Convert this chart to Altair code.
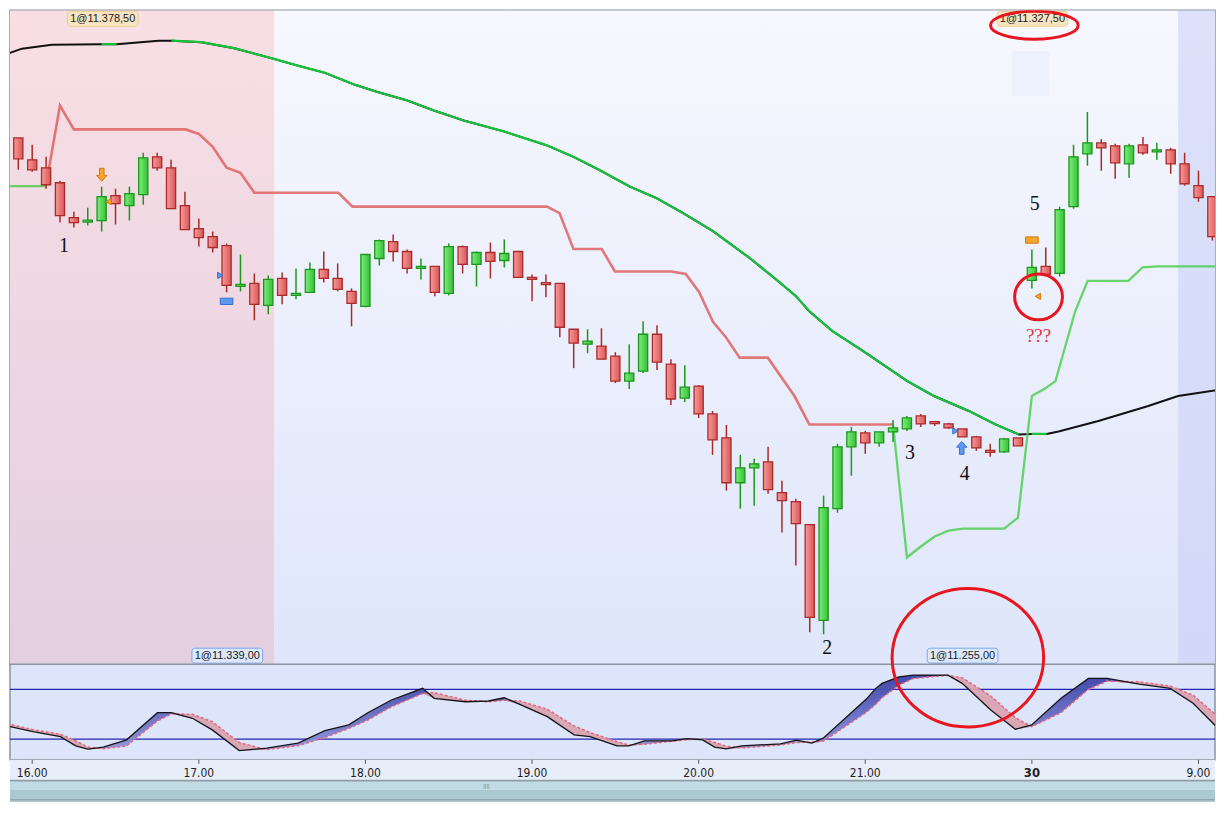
import altair as alt
import pandas as pd

# ---------------- data ----------------
# 5-minute candles; bar index k (0 = 16:00, 12 bars per hour, 72 = 08:00 on the 30th)
bar_k = list(range(-2, 87))
open_ = [11357.4, 11362.8, 11358.4, 11356.8, 11353.8, 11346.8, 11346.1, 11346.2, 11351.2, 11349.2,
         11351.4, 11359.0, 11356.8, 11349.2, 11344.6, 11343.0, 11341.2, 11333.2, 11333.6, 11329.2,
         11334.6, 11331.4, 11331.8, 11336.4, 11334.6, 11332.0, 11329.0, 11338.6, 11342.0, 11340.0,
         11336.8, 11337.0, 11331.6, 11341.0, 11337.4, 11339.8, 11338.2, 11340.0, 11334.8, 11333.6,
         11333.6, 11324.4, 11321.4, 11321.0, 11319.0, 11314.0, 11316.0, 11323.4, 11317.4, 11310.6,
         11313.0, 11307.4, 11302.6, 11293.6, 11296.6, 11297.8, 11291.6, 11289.8, 11285.2, 11266.0,
         11288.4, 11300.8, 11303.6, 11301.6, 11303.8, 11304.4, 11307.0, 11305.7, 11305.4, 11304.4,
         11302.8, 11300.0, 11299.8, 11302.6, 11334.2, 11337.0, 11335.6, 11349.0, 11359.6, 11361.8,
         11361.2, 11357.6, 11361.4, 11360.0, 11360.4, 11357.6, 11353.2, 11351.0, 11342.8]
high = [11365.8, 11362.8, 11361.4, 11359.0, 11354.2, 11348.0, 11348.8, 11353.0, 11352.6, 11353.0,
        11359.8, 11359.8, 11358.4, 11352.0, 11346.6, 11344.0, 11341.6, 11339.4, 11335.6, 11335.2,
        11335.8, 11336.6, 11337.8, 11340.0, 11337.6, 11332.6, 11339.4, 11342.4, 11343.4, 11340.4,
        11338.6, 11337.0, 11341.6, 11341.2, 11340.0, 11341.8, 11342.4, 11340.0, 11335.4, 11335.4,
        11333.6, 11324.4, 11324.4, 11324.6, 11319.8, 11321.4, 11326.0, 11325.2, 11318.4, 11317.2,
        11313.2, 11308.0, 11305.2, 11299.2, 11298.4, 11300.8, 11294.0, 11290.4, 11285.2, 11291.0,
        11301.4, 11304.8, 11304.0, 11303.8, 11306.2, 11307.0, 11307.4, 11305.7, 11305.6, 11304.4,
        11303.0, 11301.4, 11302.6, 11302.6, 11340.4, 11340.8, 11349.0, 11361.4, 11368.0, 11362.6,
        11361.6, 11361.6, 11363.0, 11361.8, 11360.8, 11359.8, 11356.2, 11351.0, 11342.8]
low = [11356.4, 11356.4, 11356.0, 11352.6, 11345.8, 11344.8, 11345.2, 11344.0, 11345.4, 11346.2,
       11349.4, 11356.2, 11348.6, 11344.4, 11341.0, 11339.8, 11331.8, 11332.0, 11326.2, 11327.4,
       11329.4, 11330.4, 11331.8, 11333.8, 11332.0, 11325.0, 11328.8, 11337.2, 11338.0, 11335.6,
       11334.4, 11331.0, 11331.2, 11335.6, 11333.0, 11334.6, 11336.8, 11334.8, 11330.0, 11330.8,
       11322.8, 11316.6, 11319.6, 11318.4, 11313.6, 11312.4, 11315.6, 11316.2, 11309.2, 11309.8,
       11306.6, 11299.2, 11292.0, 11288.4, 11289.0, 11291.4, 11283.6, 11277.0, 11263.6, 11263.2,
       11287.6, 11295.0, 11299.4, 11300.8, 11301.8, 11304.0, 11304.8, 11305.0, 11304.4, 11302.8,
       11300.0, 11298.8, 11299.6, 11301.0, 11332.6, 11335.4, 11335.0, 11348.6, 11357.2, 11356.2,
       11354.6, 11354.8, 11359.4, 11358.4, 11355.6, 11353.2, 11350.0, 11342.2, 11337.4]
close = [11363.0, 11358.6, 11356.4, 11353.4, 11347.2, 11345.8, 11346.1, 11351.0, 11349.6, 11351.6,
         11358.8, 11356.8, 11348.6, 11344.4, 11342.8, 11340.8, 11333.2, 11333.2, 11329.4, 11334.4,
         11331.2, 11331.4, 11336.4, 11334.6, 11332.4, 11329.6, 11339.4, 11342.2, 11340.0, 11336.6,
         11336.8, 11331.8, 11341.0, 11337.4, 11339.8, 11338.0, 11339.6, 11334.8, 11334.4, 11333.5,
         11324.8, 11321.6, 11322.0, 11318.4, 11314.0, 11315.6, 11323.4, 11317.8, 11310.4, 11312.8,
         11307.4, 11302.2, 11293.6, 11296.6, 11297.4, 11292.2, 11290.0, 11285.4, 11266.6, 11288.6,
         11300.8, 11303.8, 11301.6, 11303.8, 11304.6, 11306.6, 11305.4, 11305.6, 11304.6, 11302.8,
         11300.6, 11299.8, 11302.4, 11301.0, 11336.8, 11335.4, 11348.4, 11359.0, 11361.8, 11360.8,
         11357.8, 11361.2, 11359.8, 11360.4, 11357.6, 11353.6, 11350.8, 11343.0, 11337.4]

# red stop line
stop_k = [1.0, 2.0, 3.0, 11.05, 12.0, 13.0, 14.0, 15.0, 16.0, 22.05, 23.07, 37.07, 37.98, 38.98,
          41.02, 41.97, 46.04, 47.07, 48.03, 49.03, 49.99, 50.95, 52.98, 54.9, 55.97, 62.0]
stop_p = [11353.4, 11369.3, 11364.5, 11364.5, 11363.6, 11361.0, 11356.8, 11355.8, 11351.8, 11351.8,
          11349.0, 11349.0, 11347.7, 11340.5, 11340.5, 11336.0, 11336.0, 11335.5, 11331.9, 11325.9,
          11322.7, 11318.7, 11318.7, 11311.0, 11305.3, 11305.3]

# moving average (black / green coloured)
ma_k = [-2.18, -0.74, 1.41, 5.0, 6.08, 9.1, 10.03, 12.18, 14.55, 17.21, 19.12, 21.03, 23.19, 24.87,
        27.02, 28.93, 31.08, 33.96, 35.39, 37.07, 38.98, 40.9, 43.05, 44.97, 46.88, 49.03, 51.67,
        53.58, 55.02, 55.97, 57.65, 59.8, 63.03, 64.95, 67.46, 69.38, 71.05, 71.98, 73.06, 73.92,
        76.79, 80.38, 82.53, 85.77]
ma_p = [11379.3, 11380.7, 11381.5, 11381.6, 11381.6, 11382.3, 11382.3, 11382.0, 11380.8, 11378.8,
        11377.3, 11375.9, 11373.5, 11372.0, 11370.3, 11368.3, 11366.3, 11364.1, 11362.8, 11361.3,
        11359.0, 11356.3, 11353.0, 11350.7, 11347.7, 11344.1, 11338.7, 11334.4, 11331.0, 11328.0,
        11324.0, 11320.1, 11314.0, 11311.0, 11308.0, 11305.3, 11303.3, 11303.4, 11303.4, 11303.9,
        11306.0, 11309.0, 11311.0, 11312.4]
ma_green_runs = [(3, 4), (6, 36), (37, 38)]

# green trailing stop
trail_k = [-2.2, 1.0, 62.0, 63.0, 64.0, 65.0, 66.0, 67.0, 70.0, 71.0, 72.0, 73.0, 73.7, 75.12,
           76.02, 78.95, 79.97, 81.1, 86.0]
trail_p = [11353.1, 11353.1, 11305.3, 11278.6, 11280.8, 11282.8, 11284.0, 11284.4, 11284.4, 11286.6,
           11311.0, 11312.6, 11314.0, 11328.0, 11334.1, 11334.1, 11336.8, 11337.0, 11337.0]
trail_run = ["a", "a"] + ["b"] * 17

# signal markers
mk_k = [5.01, 5.5, 13.55, 14.0, 66.95, 66.5, 72.0, 72.43]
mk_p = [11355.4, 11350.0, 11335.2, 11330.0, 11300.6, 11304.0, 11342.3, 11331.0]
mk_kind = ["down", "tl", "tr", "flat", "up", "tr", "flat", "tl"]
mk_side = ["sell", "sell", "buy", "buy", "buy", "buy", "sell", "sell"]

# wave numbers
num_txt = ["1", "2", "3", "4", "5"]
num_k = [2.28, 57.27, 63.22, 67.17, 72.2]
num_p = [11341.2, 11260.4, 11299.6, 11295.4, 11349.6]

# order labels pinned to the panel edges
order_txt = ["1@11.378,50", "1@11.327,50", "1@11.339,00", "1@11.255,00"]
order_k = [5.08, 72.04, 14.05, 67.01]
order_edge = ["top", "top", "bottom", "bottom"]

# session shading boundaries (bar index)
sess_k = [-3.0, 17.46, 82.53, 88.0]

# stochastic oscillator
osc_k = [-2.18, 0.05, 2.03, 3.14, 4.0, 5.12, 6.8, 9.02, 10.03, 11.54, 12.97, 14.91, 16.89, 19.15,
         21.08, 22.8, 24.17, 25.87, 28.12, 28.95, 31.2, 32.86, 34.0, 35.12, 37.1, 39.03, 40.18,
         42.12, 42.98, 44.09, 46.07, 47.18, 48.29, 49.15, 49.99, 51.09, 53.89, 55.04, 56.15, 56.97,
         60.06, 60.76, 61.21, 62.43, 63.44, 65.95, 66.98, 69.04, 70.81, 71.98, 74.1, 76.07, 77.43,
         79.73, 81.96, 83.61, 85.76]
osc_main = [37.2, 29.1, 23.1, 12.0, 8.0, 10.4, 19.2, 51.9, 51.9, 45.2, 31.2, 6.3, 9.2, 15.2, 30.3,
            37.2, 51.9, 67.2, 81.2, 69.2, 65.1, 66.0, 69.9, 62.0, 47.1, 25.2, 23.1, 12.0, 12.0, 18.0,
            18.0, 20.7, 19.2, 10.4, 8.4, 12.0, 14.4, 18.8, 15.2, 21.2, 68.0, 81.2, 87.2, 95.1, 97.2,
            97.2, 87.2, 55.2, 32.0, 37.2, 69.2, 93.2, 93.2, 86.4, 81.2, 63.2, 27.2]
osc_signal = [40, 31.5, 26, 18, 10.5, 8.5, 12, 42, 50.5, 50, 41, 16, 7.5, 12, 22, 33, 43, 59, 75, 76,
              67, 65, 67, 66, 56, 36, 28, 17, 13, 14, 17.5, 19.5, 20, 16, 11.5, 9.5, 13, 16, 16.5,
              17.5, 52, 62, 70, 85, 93, 97, 94, 72, 46, 35, 52, 80, 90, 89, 84, 73, 42]
osc_levels = [80, 20]

# time axis
tick_k = [0, 12, 24, 36, 48, 60, 72, 84]
tick_txt = ["16.00", "17.00", "18.00", "19.00", "20.00", "21.00", "30", "9.00"]

# ---------------- layout / styles ----------------
W = 1209
H_MAIN, H_OSC, H_BOT = 656, 96, 42
X_DOM = [-1.6, 85.19]
xs = alt.Scale(domain=X_DOM, nice=False, zero=False)
ys = alt.Scale(domain=[11257.2, 11388.4], nice=False, zero=False)
os_ = alt.Scale(domain=[-4.84, 110.36], nice=False, zero=False)
RED_C = "#e8161e"
X = alt.X("k:Q", scale=xs, axis=None)


def grad(c0, c1, horizontal=False):
    return alt.LinearGradient(
        gradient="linear",
        stops=[alt.GradientStop(color=c0, offset=0), alt.GradientStop(color=c1, offset=1)],
        x1=0, y1=0, x2=1 if horizontal else 0, y2=0 if horizontal else 1)


def ellipse_path(r):
    c = 0.5523
    return (f"M1,0C1,{r*c:.4f} {c},{r:.4f} 0,{r:.4f}"
            f"C{-c},{r:.4f} -1,{r*c:.4f} -1,0"
            f"C-1,{-r*c:.4f} {-c},{-r:.4f} 0,{-r:.4f}"
            f"C{c},{-r:.4f} 1,{-r*c:.4f} 1,0Z")


def ellipse(k, py, w, h, clip):
    return alt.Chart(pd.DataFrame({"k": [k]})).mark_point(
        shape=ellipse_path(h / w), size=w * w, filled=False, color=RED_C,
        stroke=RED_C, strokeWidth=3, opacity=1, clip=clip).encode(x=X, y=alt.value(py))


# ---------------- main panel ----------------
cdf = pd.DataFrame({"k": bar_k, "open": open_, "high": high, "low": low, "close": close})
cdf["up"] = cdf["close"] >= cdf["open"]
b_hi = cdf[["open", "close"]].max(axis=1)
b_lo = cdf[["open", "close"]].min(axis=1)
mid = (b_hi + b_lo) / 2
small = (b_hi - b_lo) < 0.4
cdf["b_hi"] = b_hi.where(~small, mid + 0.2)
cdf["b_lo"] = b_lo.where(~small, mid - 0.2)
up_df = cdf[cdf["up"]]
dn_df = cdf[~cdf["up"]]

layers = []
sess_fill = [grad("#f9dfe4", "#e3cfe2"), grad("#f7f8fe", "#dfe6fb"), grad("#dde1fa", "#d2d8f8")]
for i in range(3):
    layers.append(alt.Chart(pd.DataFrame({"k": [sess_k[i]], "k2": [sess_k[i + 1]]})).mark_rect(
        fill=sess_fill[i], clip=True).encode(
        x=X, x2="k2:Q", y=alt.value(0), y2=alt.value(H_MAIN)))

# faint square
layers.append(alt.Chart(pd.DataFrame({"k": [70.55], "k2": [73.27]})).mark_rect(
    color="#edf1fc").encode(x=X, x2="k2:Q", y=alt.value(41), y2=alt.value(86)))

ma_df = pd.DataFrame({"k": ma_k, "p": ma_p})
layers.append(alt.Chart(ma_df).mark_line(color="#111111", strokeWidth=2, clip=True).encode(
    x=X, y=alt.Y("p:Q", scale=ys, axis=None)))
g_rows = []
for r, (a, b) in enumerate(ma_green_runs):
    for j in range(a, b + 1):
        g_rows.append({"k": ma_k[j], "p": ma_p[j], "run": r})
layers.append(alt.Chart(pd.DataFrame(g_rows)).mark_line(color="#16c23a", strokeWidth=2.2, clip=True).encode(
    x=X, y=alt.Y("p:Q", scale=ys, axis=None), detail="run:N"))

layers.append(alt.Chart(pd.DataFrame({"k": stop_k, "p": stop_p})).mark_line(
    color="#de6262", strokeWidth=2.6, opacity=0.85, clip=True).encode(
    x=X, y=alt.Y("p:Q", scale=ys, axis=None)))
layers.append(alt.Chart(pd.DataFrame({"k": trail_k, "p": trail_p, "run": trail_run})).mark_line(
    color="#4fcf50", strokeWidth=2.3, opacity=0.85, clip=True).encode(
    x=X, y=alt.Y("p:Q", scale=ys, axis=None), detail="run:N"))

G_DK, R_DK = "#1d961d", "#a92a2a"
for d, dk, gfill in [(up_df, G_DK, grad("#7cee7c", "#36c036", True)),
                     (dn_df, R_DK, grad("#f69a9a", "#da5656", True))]:
    layers.append(alt.Chart(d).mark_rule(color=dk, strokeWidth=1.5, clip=True).encode(
        x=X, y=alt.Y("low:Q", scale=ys, axis=None), y2="high:Q"))
    layers.append(alt.Chart(d).mark_rect(fill=gfill, stroke=dk, strokeWidth=1.3,
                                         xOffset=-4.6, x2Offset=4.6, clip=True).encode(
        x=X, x2="k:Q", y=alt.Y("b_hi:Q", scale=ys, axis=None), y2="b_lo:Q"))

# markers
ARROW_DN = "M-0.35,-1L0.35,-1L0.35,0.1L0.8,0.1L0,1L-0.8,0.1L-0.35,0.1Z"
ARROW_UP = "M-0.35,1L0.35,1L0.35,-0.1L0.8,-0.1L0,-1L-0.8,-0.1L-0.35,-0.1Z"
FLAT = "M-1,-0.5L1,-0.5L1,0.5L-1,0.5Z"
shape_of = {"down": (ARROW_DN, 169), "up": (ARROW_UP, 169), "flat": (FLAT, 160),
            "tl": ("triangle-left", 40), "tr": ("triangle-right", 40)}
col_of = {"sell": ("#f8a52a", "#d07810"), "buy": ("#5e98f0", "#3a6dcc")}
mdf = pd.DataFrame({"k": mk_k, "p": mk_p, "kind": mk_kind, "side": mk_side})
for kind, (shp, sz) in shape_of.items():
    for side, (fc, sc) in col_of.items():
        sub = mdf[(mdf["kind"] == kind) & (mdf["side"] == side)]
        if len(sub) == 0:
            continue
        layers.append(alt.Chart(sub).mark_point(shape=shp, size=sz, filled=True, fill=fc,
                                                stroke=sc, strokeWidth=1, opacity=1).encode(
            x=X, y=alt.Y("p:Q", scale=ys, axis=None)))

layers.append(alt.Chart(pd.DataFrame({"k": num_k, "p": num_p, "t": num_txt})).mark_text(
    font="Liberation Serif", fontSize=20, color="#111111", baseline="middle").encode(
    x=X, y=alt.Y("p:Q", scale=ys, axis=None), text="t:N"))
layers.append(alt.Chart(pd.DataFrame({"k": [72.48], "p": [11323.0], "t": ["???"]})).mark_text(
    font="Liberation Serif", fontSize=19, color="#e4343a", baseline="middle").encode(
    x=X, y=alt.Y("p:Q", scale=ys, axis=None), text="t:N"))

odf = pd.DataFrame({"k": order_k, "t": order_txt, "edge": order_edge})
for edge, cy, fc, sc in [("top", 8.5, "#f7e5c1", "#eccf8c"), ("bottom", 647.5, "#dce8fc", "#79a6ea")]:
    sub = odf[odf["edge"] == edge]
    layers.append(alt.Chart(sub).mark_rect(fill=fc, stroke=sc, strokeWidth=1, cornerRadius=3,
                                           xOffset=-35.5, x2Offset=35.5).encode(
        x=X, x2="k:Q", y=alt.value(cy - 7.5), y2=alt.value(cy + 7.5)))
    layers.append(alt.Chart(sub).mark_text(font="Liberation Sans", fontSize=11, color="#1b1b1b",
                                           baseline="middle").encode(
        x=X, y=alt.value(cy + 0.5), text="t:N"))

layers.append(ellipse(72.18, 15.0, 88, 28, True))
layers.append(ellipse(72.48, 287.5, 48, 46, True))

main = alt.layer(*layers).properties(
    width=W, height=H_MAIN, view=alt.ViewBackground(stroke="#8796a0", strokeWidth=1.5))

# ---------------- oscillator panel ----------------
osc = pd.DataFrame({"k": osc_k, "K": osc_main, "D": osc_signal})
osc["lo"] = osc[["K", "D"]].min(axis=1)
OY = lambda f: alt.Y(f, scale=os_, axis=None)
osc_layers = [
    alt.Chart(pd.DataFrame({"lvl": osc_levels})).mark_rule(color="#2424b0", strokeWidth=1.2).encode(
        y=OY("lvl:Q")),
    alt.Chart(osc).mark_area(fill=grad("#3a40a8", "#8e96dc"), opacity=0.95, clip=True).encode(
        x=X, y=OY("K:Q"), y2="lo:Q"),
    alt.Chart(osc).mark_area(fill="#d9a3b2", opacity=0.95, clip=True).encode(
        x=X, y=OY("D:Q"), y2="lo:Q"),
    alt.Chart(osc).mark_line(color="#e4687a", strokeDash=[3, 2], strokeWidth=1.5, clip=True).encode(
        x=X, y=OY("D:Q")),
    alt.Chart(osc).mark_line(color="#151515", strokeWidth=1.3, clip=True).encode(
        x=X, y=OY("K:Q")),
    ellipse(67.39, -6.5, 152, 139, False),
]
osc_chart = alt.layer(*osc_layers).properties(
    width=W, height=H_OSC,
    view=alt.ViewBackground(fill="#dde5fb", stroke="#8796a0", strokeWidth=1.5))

# ---------------- time axis + scrollbar ----------------
one = pd.DataFrame({"a": [0]})
def band(y0, y1, c):
    return alt.Chart(one).mark_rect(color=c).encode(
        x=alt.value(0), x2=alt.value(W), y=alt.value(y0), y2=alt.value(y1))

tdf = pd.DataFrame({"k": tick_k, "t": tick_txt})
bot_layers = [
    band(0, 20, "#e8eef9"),
    band(20, 22, "#8c9ba5"),
    band(22, 30, "#c0dbe4"),
    band(30, 39, "#abc8d1"),
    band(39, 41, "#8ca7b1"),
    band(41, 42, "#9ab7c1"),
    alt.Chart(tdf).mark_rule(color="#555555", strokeWidth=1).encode(
        x=X, y=alt.value(0), y2=alt.value(4)),
    alt.Chart(tdf[tdf["t"] != "30"]).mark_text(
        font="Liberation Sans Narrow, DejaVu Sans Condensed, Liberation Sans", fontSize=12,
        color="#222222", baseline="middle").encode(x=X, y=alt.value(13), text="t:N"),
    alt.Chart(tdf[tdf["t"] == "30"]).mark_text(
        font="Liberation Sans Narrow, DejaVu Sans Condensed, Liberation Sans", fontSize=13,
        fontWeight="bold", color="#222222", baseline="middle").encode(x=X, y=alt.value(13), text="t:N"),
    alt.Chart(one).mark_text(text="||||", fontSize=6, color="#6d8893").encode(
        x=alt.value(478), y=alt.value(26)),
]
bottom = alt.layer(*bot_layers).properties(
    width=W, height=H_BOT, view=alt.ViewBackground(stroke=None))

chart = alt.vconcat(main, osc_chart, bottom, spacing=0, bounds="flush").resolve_scale(
    x="independent", y="independent").properties(padding=0, background="white")

chart.save("out.html", embed_options={"renderer": "svg", "actions": False})
